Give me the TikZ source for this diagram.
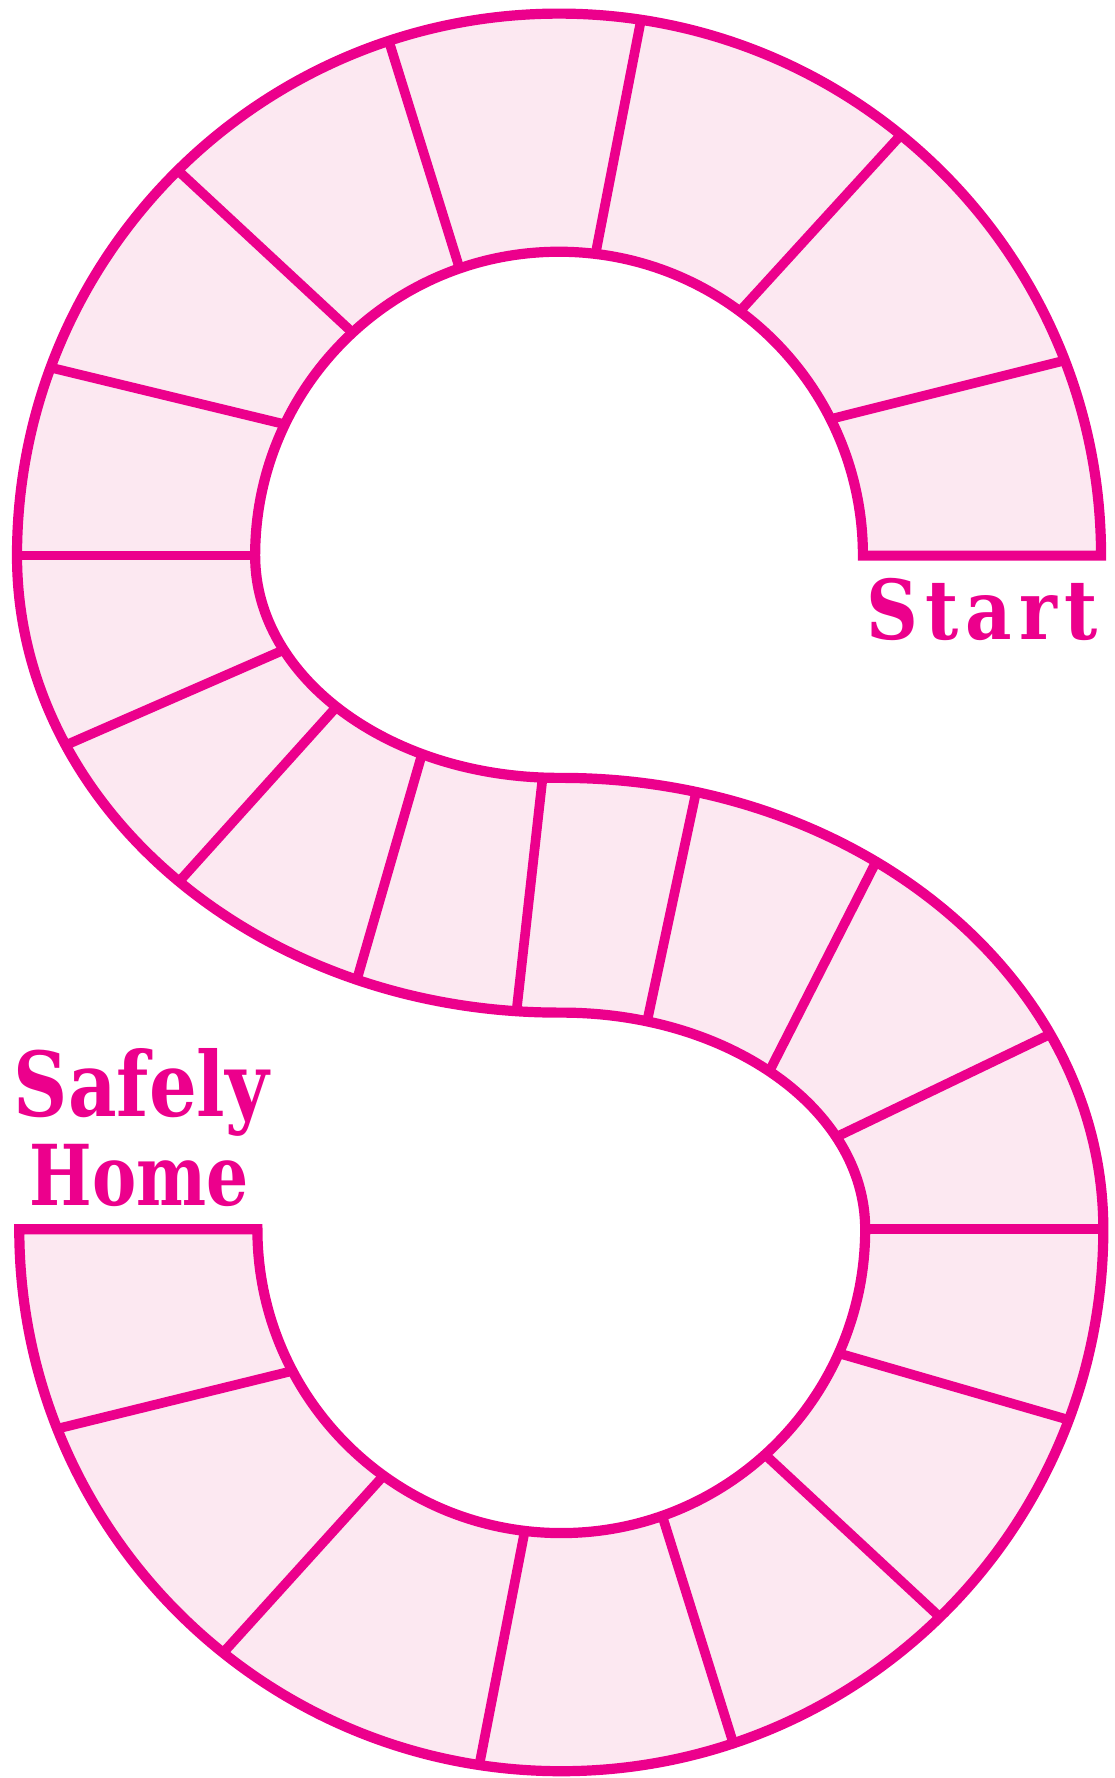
\documentclass[tikz,border=0pt]{standalone}
\usepackage{graphicx}
\usepackage{fontspec}
\setmainfont{DejaVu Serif}
\newfontfamily\wideslab[LetterSpace=10]{DejaVu Serif}
\usetikzlibrary{calc}
\definecolor{mag}{HTML}{EC008C}
\definecolor{pinkfill}{HTML}{FCE8F1}
\tikzset{
  board/.style={draw=mag, line width=9pt, line join=miter},
  divider/.style={draw=mag, line width=8.5pt},
  label/.style={anchor=base west, inner sep=0pt, text=mag, font=\bfseries}
}
\begin{document}
\begin{tikzpicture}[x=1pt,y=-1pt]
\useasboundingbox (0,0) rectangle (983,1568);
\coordinate (C1) at (493,490);
\coordinate (C2) at (495,1084);
% board fill
\fill[pinkfill] ($(C1)+(0:478)$) arc[start angle=0,end angle=-180,radius=478]
  arc[start angle=180,end angle=90,x radius=478,y radius=403]
  -- ($(C2)+(-90:268 and 191)$)
  arc[start angle=-90,end angle=0,x radius=268,y radius=191]
  arc[start angle=0,end angle=180,radius=268]
  -- ($(C2)+(180:478)$)
  arc[start angle=180,end angle=0,radius=478]
  arc[start angle=0,end angle=-90,x radius=478,y radius=398]
  -- ($(C1)+(90:268 and 196)$)
  arc[start angle=90,end angle=180,x radius=268,y radius=196]
  arc[start angle=180,end angle=360,radius=268]
  -- cycle;
% dividers: top loop
\foreach \a/\b in {-26.7/-21.1,-53.5/-50.9,-83.1/-81.3,-109.1/-108.3,-132.8/-134.7,-154.4/-159.7,180/180}
  \draw[divider] ($(C1)+(\a:268)$) -- ($(C1)+(\b:478)$);
% dividers: middle left
\foreach \a/\b in {154.9/155.5,137.1/134.5,116.8/111.9,93.1/94.5}
  \draw[divider] ($(C1)+(\a:268 and 196)$) -- ($(C1)+(\b:478 and 403)$);
% dividers: middle right
\foreach \a/\b in {-73.6/-75.6,-46.8/-54.5,-25.2/-25.6,0/0}
  \draw[divider] ($(C2)+(\a:268 and 191)$) -- ($(C2)+(\b:478 and 398)$);
% dividers: bottom loop
\foreach \a/\b in {24.1/20.6,47.9/45.7,70.6/71.5,96.9/98.7,125.8/128.6,152.2/158.4}
  \draw[divider] ($(C2)+(\a:268)$) -- ($(C2)+(\b:478)$);
% outline
\draw[board] ($(C1)+(0:478)$) arc[start angle=0,end angle=-180,radius=478]
  arc[start angle=180,end angle=90,x radius=478,y radius=403]
  -- ($(C2)+(-90:268 and 191)$)
  arc[start angle=-90,end angle=0,x radius=268,y radius=191]
  arc[start angle=0,end angle=180,radius=268]
  -- ($(C2)+(180:478)$)
  arc[start angle=180,end angle=0,radius=478]
  arc[start angle=0,end angle=-90,x radius=478,y radius=398]
  -- ($(C1)+(90:268 and 196)$)
  arc[start angle=90,end angle=180,x radius=268,y radius=196]
  arc[start angle=180,end angle=360,radius=268]
  -- cycle;
% labels
\node[label] (start) at (764,564) {\resizebox{204pt}{54pt}{\wideslab\bfseries Start}};
\node[label] (safely) at (12,985) {\resizebox{225pt}{60pt}{\bfseries Safely}};
\node[label] (home) at (26,1063) {\resizebox{193pt}{54pt}{\bfseries Home}};
\end{tikzpicture}
\end{document}
